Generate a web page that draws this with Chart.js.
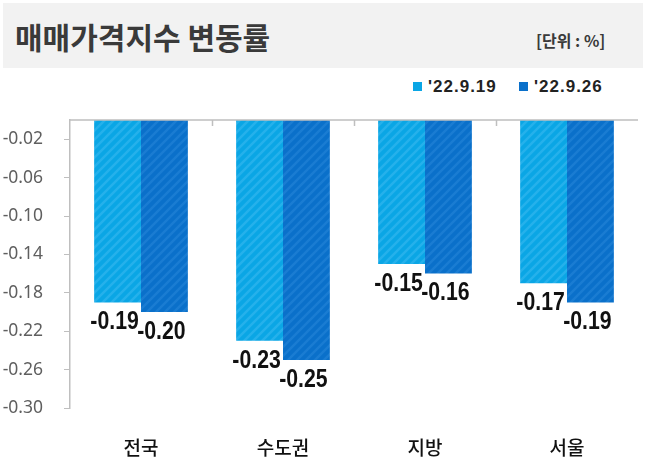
<!DOCTYPE html>
<html>
<head>
<meta charset="utf-8">
<script src="https://cdn.jsdelivr.net/npm/chart.js@4/dist/chart.umd.min.js"></script>
<style>
  body { margin: 0; background: #fff; }
  #wrap { position: relative; width: 647px; height: 472px; overflow: hidden; }
  #head { position: absolute; left: 3px; top: 3px; width: 640px; height: 65px; background: #f2f2f2; }
  #title { position: absolute; left: 12px; top: 18px; font: bold 30px "Noto Sans CJK KR", sans-serif; color: #3a3a3a; white-space: nowrap; line-height: 1; }
  #unit { position: absolute; left: 533px; top: 29px; font: bold 16px "Noto Sans CJK KR", sans-serif; color: #3a3a3a; white-space: nowrap; line-height: 1; }
  .leg { position: absolute; top: 78px; font: bold 17px "Liberation Sans", sans-serif; letter-spacing: 1px; color: #222; white-space: nowrap; line-height: 18px; }
  .leg i { display: inline-block; width: 9px; height: 9px; margin-right: 6px; vertical-align: 1px; }
  canvas { position: absolute; left: 0; top: 0; }
</style>
</head>
<body>
<div id="wrap">
  <div id="head">
    <div id="title">매매가격지수 변동률</div>
    <div id="unit">[단위 : %]</div>
  </div>
  <div id="legend"></div>
  <canvas id="chart" width="647" height="472"></canvas>
</div>
<script>
var categories = ["전국", "수도권", "지방", "서울"];
var seriesNames = ["'22.9.19", "'22.9.26"];
var week1 = [-0.19, -0.23, -0.15, -0.17];
var week2 = [-0.20, -0.25, -0.16, -0.19];
var yTicks = [-0.02, -0.06, -0.10, -0.14, -0.18, -0.22, -0.26, -0.30];

var baseColors = ["#0aa6e5", "#0a70ca"];
var stripeColors = ["#25b1eb", "#1a7cd2"];

function stripes(base, line) {
  var c = document.createElement("canvas");
  c.width = 9;
  c.height = 9;
  var g = c.getContext("2d");
  g.fillStyle = base;
  g.fillRect(0, 0, 9, 9);
  g.strokeStyle = line;
  g.lineWidth = 2.5;
  g.beginPath();
  g.moveTo(-1, 10); g.lineTo(10, -1);
  g.moveTo(-5, 5); g.lineTo(5, -5);
  g.moveTo(4, 14); g.lineTo(14, 4);
  g.stroke();
  return g.createPattern(c, "repeat");
}

// html legend
var legendHtml = "";
var legendLeft = [413, 519];
seriesNames.forEach(function (name, i) {
  legendHtml += '<div class="leg" style="left:' + legendLeft[i] + 'px"><i style="background:' +
    baseColors[i] + '"></i>' + name + "</div>";
});
document.getElementById("legend").innerHTML = legendHtml;

// value labels under the bar ends, squeezed to look condensed
var valueLabels = {
  id: "valueLabels",
  afterDatasetsDraw: function (chart) {
    var ctx = chart.ctx;
    var sx = 0.85;
    ctx.save();
    ctx.font = "bold 25px 'Liberation Sans', sans-serif";
    ctx.fillStyle = "#111";
    ctx.textAlign = "center";
    ctx.textBaseline = "middle";
    chart.data.datasets.forEach(function (ds, i) {
      chart.getDatasetMeta(i).data.forEach(function (bar, j) {
        ctx.save();
        ctx.translate(bar.x - 3, bar.y + 20);
        ctx.scale(sx, 1);
        ctx.fillText(ds.data[j].toFixed(2), 0, 0);
        ctx.restore();
      });
    });
    ctx.restore();
  }
};

// zero line on top with small ticks between categories
var zeroLine = {
  id: "zeroLine",
  afterDraw: function (chart) {
    var ctx = chart.ctx;
    var x = chart.scales.x;
    var y0 = chart.scales.y.getPixelForValue(0);
    ctx.save();
    ctx.strokeStyle = "#bfbfbf";
    ctx.lineWidth = 1.5;
    ctx.beginPath();
    ctx.moveTo(chart.chartArea.left, y0);
    ctx.lineTo(chart.chartArea.right, y0);
    var half = (x.getPixelForValue(1) - x.getPixelForValue(0)) / 2;
    for (var i = 1; i < categories.length; i++) {
      var px = Math.round(x.getPixelForValue(i) - half) + 0.5;
      ctx.moveTo(px, y0);
      ctx.lineTo(px, y0 + 6);
    }
    ctx.stroke();
    ctx.restore();
  }
};

var ctx = document.getElementById("chart");
new Chart(ctx, {
  type: "bar",
  data: {
    labels: categories,
    datasets: [
      { label: seriesNames[0], data: week1, backgroundColor: stripes(baseColors[0], stripeColors[0]) },
      { label: seriesNames[1], data: week2, backgroundColor: stripes(baseColors[1], stripeColors[1]) }
    ]
  },
  options: {
    responsive: false,
    animation: false,
    layout: { padding: { top: 120, right: 9, left: 0, bottom: 0 } },
    datasets: { bar: { categoryPercentage: 0.66, barPercentage: 1.0 } },
    plugins: { legend: { display: false }, tooltip: { enabled: false } },
    scales: {
      x: {
        grid: { display: false },
        border: { display: false },
        ticks: {
          padding: 20,
          color: "#111",
          font: { family: "'Noto Sans CJK KR', sans-serif", size: 19, weight: "500" }
        },
        afterFit: function (s) { s.height = 64; }
      },
      y: {
        min: -0.30,
        max: 0,
        afterBuildTicks: function (s) {
          s.ticks = yTicks.map(function (v) { return { value: v }; });
        },
        afterFit: function (s) { s.width = 70; },
        grid: { drawOnChartArea: false, drawTicks: true, tickLength: 6, color: "#bfbfbf" },
        border: { display: true, color: "#bfbfbf", width: 1.5 },
        ticks: {
          padding: 21,
          color: "#5f5f5f",
          font: { family: "'Noto Sans', sans-serif", size: 17.5 },
          callback: function (v) { return v.toFixed(2); }
        }
      }
    }
  },
  plugins: [valueLabels, zeroLine]
});
</script>
</body>
</html>
